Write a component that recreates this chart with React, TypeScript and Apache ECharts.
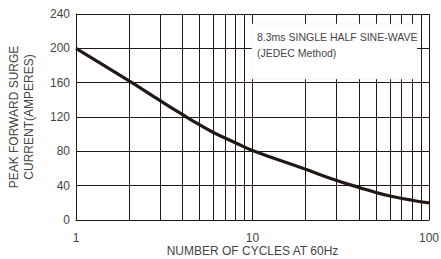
import React, { useEffect, useRef } from "react";
import * as echarts from "echarts";

const cycles = [1, 2, 3, 4, 5, 6, 8, 10, 20, 30, 40, 50, 60, 80, 100];
const surge = [200, 162, 139, 123, 111, 102, 90, 81, 59, 46, 38, 32, 28, 23, 20];
const minorLines = [2, 3, 4, 5, 6, 7, 8, 9, 20, 30, 40, 50, 60, 70, 80, 90];
const yTicks = [0, 40, 80, 120, 160, 200, 240];
const noteLines = ["8.3ms SINGLE HALF SINE-WAVE", "(JEDEC Method)"];

export default function App() {
  const ref = useRef<HTMLDivElement>(null);
  useEffect(() => {
    const chart = echarts.init(ref.current!, null, { renderer: "svg" });
    const ink = "#231815";
    const font = "Liberation Sans, Arial, sans-serif";
    chart.setOption({
      animation: false,
      grid: { left: 76, right: 12, top: 14, bottom: 39, containLabel: false, outerBoundsMode: "none" },
      textStyle: { fontFamily: font },
      xAxis: {
        type: "log",
        logBase: 10,
        min: 1,
        max: 100,
        name: "NUMBER OF CYCLES AT 60Hz",
        nameLocation: "middle",
        nameGap: 25,
        nameMoveOverlap: false,
        nameTextStyle: { color: "#444", fontSize: 12 },
        axisLine: { show: true, lineStyle: { color: ink, width: 1 } },
        axisTick: { show: false },
        axisLabel: { color: "#444", fontSize: 12, margin: 12 },
        splitLine: { show: true, lineStyle: { color: ink, width: 1 } },
      },
      yAxis: {
        type: "value",
        min: yTicks[0],
        max: yTicks[yTicks.length - 1],
        interval: 40,
        name: "PEAK FORWARD SURGE\nCURRENT(AMPERES)",
        nameLocation: "middle",
        nameGap: 40,
        nameMoveOverlap: false,
        nameTextStyle: { color: "#444", fontSize: 12, lineHeight: 15 },
        axisLine: { show: true, lineStyle: { color: ink, width: 1 } },
        axisTick: { show: false },
        axisLabel: { color: "#444", fontSize: 12, margin: 6 },
        splitLine: { show: true, lineStyle: { color: ink, width: 1 } },
      },
      series: [
        {
          type: "line",
          data: cycles.map((c, i) => [c, surge[i]]),
          smooth: true,
          showSymbol: false,
          lineStyle: { color: ink, width: 3.2 },
          z: 5,
          markLine: {
            silent: true,
            symbol: "none",
            label: { show: false },
            lineStyle: { color: ink, width: 1, type: "solid" },
            data: minorLines.map((v) => ({ xAxis: v })),
            z: 1,
          },
        },
      ],
      graphic: [
        {
          type: "rect",
          shape: { x: 252, y: 24, width: 165, height: 55 },
          style: { fill: "#fff", stroke: "#e4e4e4", lineWidth: 0.5 },
          z: 100,
        },
        {
          type: "text",
          x: 257,
          y: 29,
          style: {
            text: noteLines.join("\n"),
            fill: "#444",
            fontSize: 10.5,
            lineHeight: 16,
            verticalAlign: "top",
            fontFamily: font,
          },
          z: 101,
        },
      ],
    });
    return () => chart.dispose();
  }, []);
  return (
    <div
      ref={ref}
      style={{ position: "absolute", left: 0, top: 0, width: 441, height: 259 }}
    />
  );
}
